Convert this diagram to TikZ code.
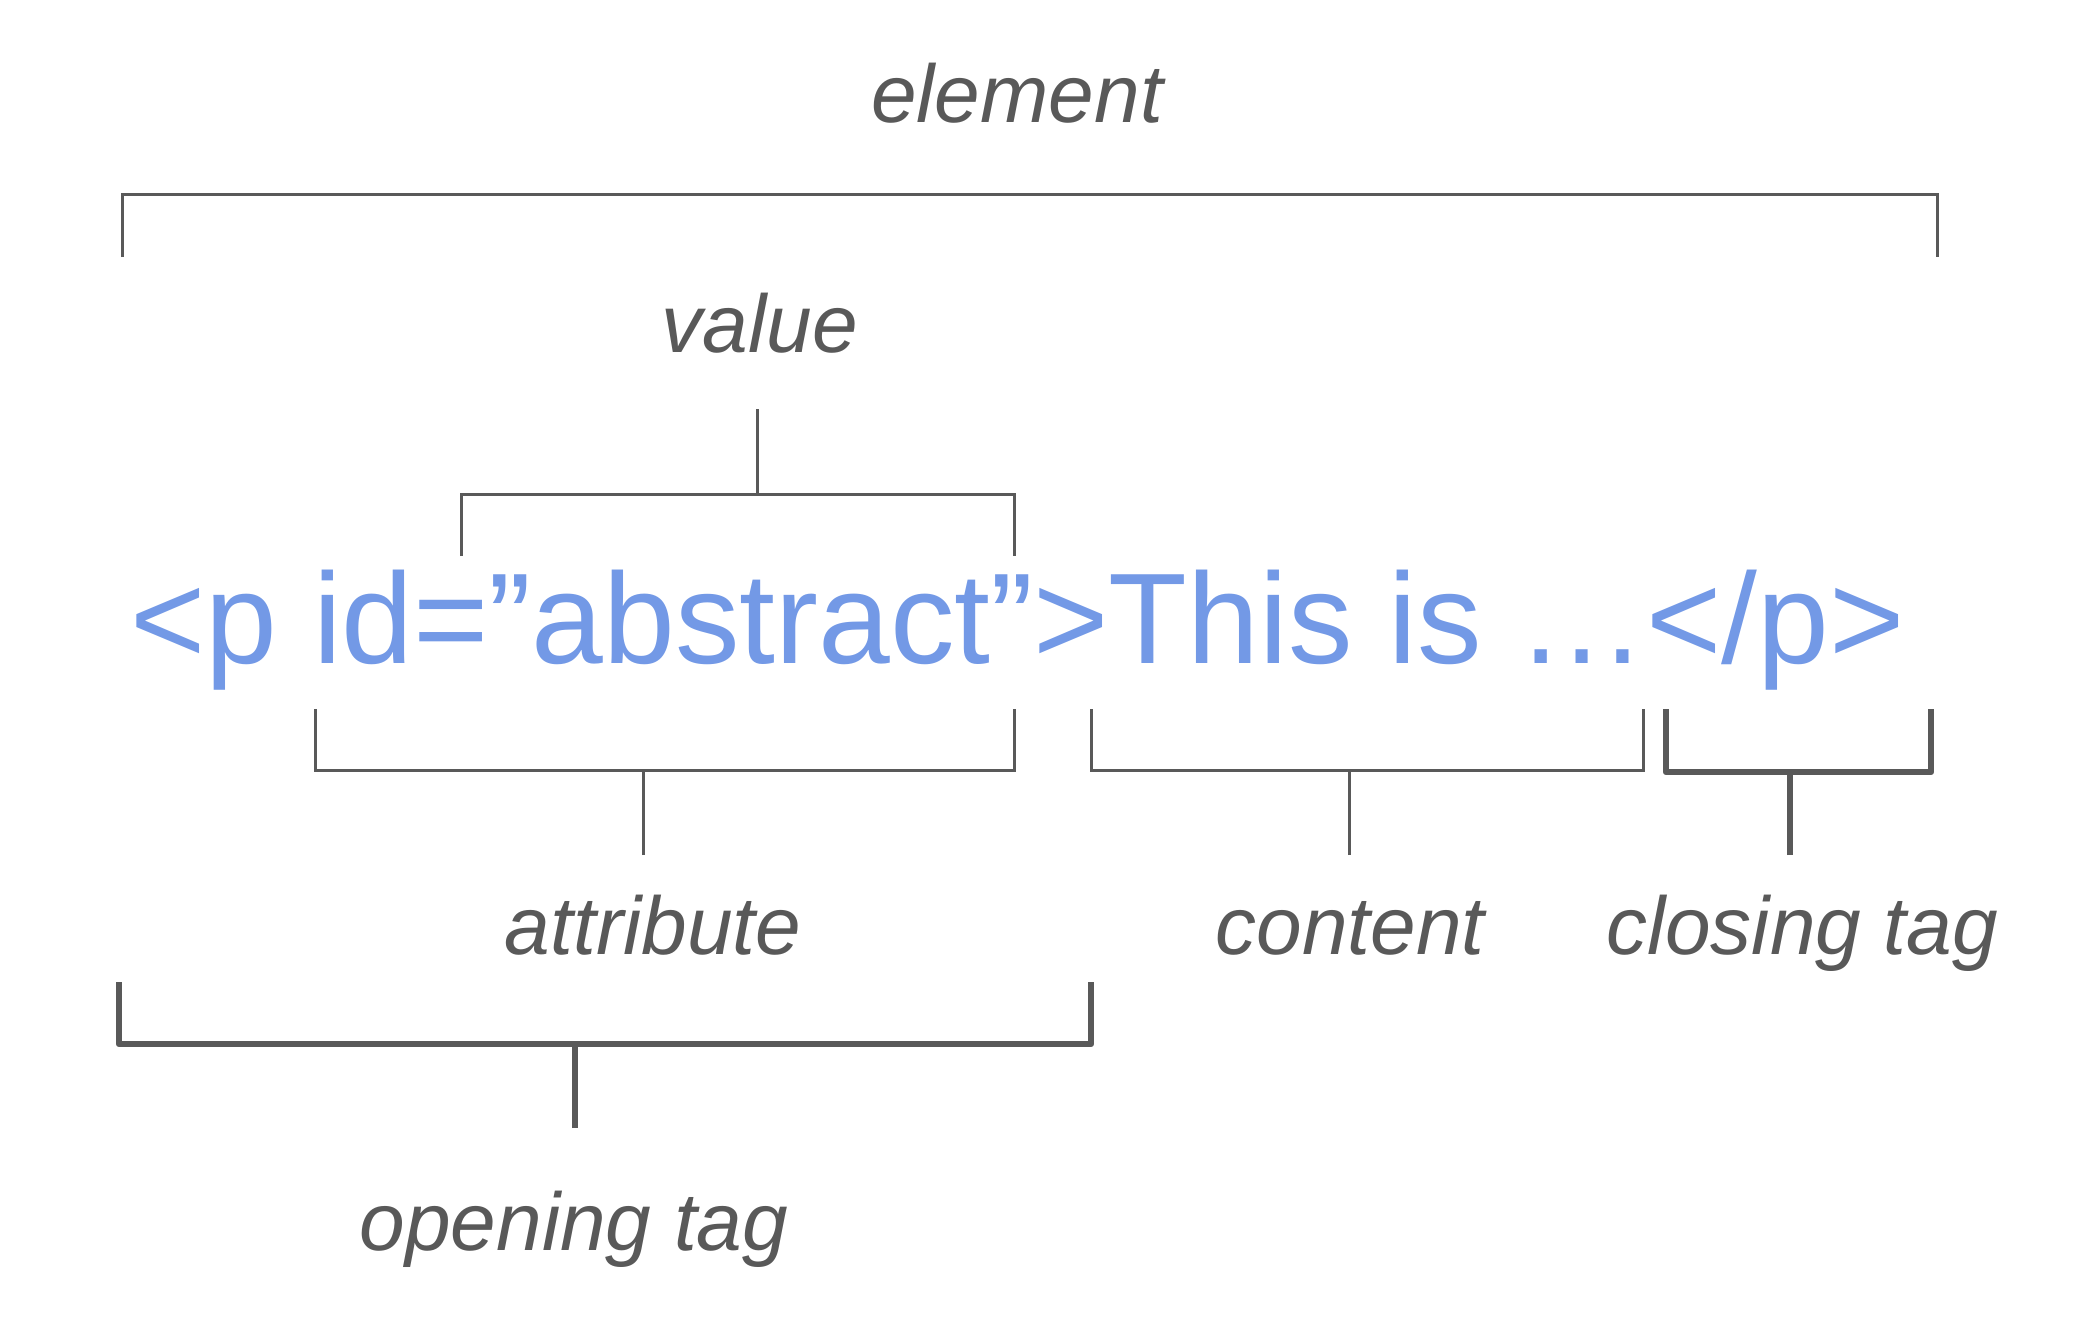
\documentclass[tikz,border=0pt]{standalone}
\usepackage{fontspec}
\setmainfont{Liberation Sans}
\usetikzlibrary{positioning}
\definecolor{codeblue}{RGB}{115,153,230}
\definecolor{labelgray}{RGB}{89,89,89}

\begin{document}
\begin{tikzpicture}[x=0.5pt, y=-0.5pt,
    lbl/.style={font=\fontsize{41}{49}\selectfont\itshape, text=labelgray, inner sep=0pt, anchor=base},
    code/.style={font=\fontsize{64.5}{77}\selectfont, text=codeblue, inner sep=0pt, anchor=base west},
    brk/.style={draw=labelgray, line width=1.5pt},
    brkthick/.style={brk, line width=3.2pt, line join=round}]
    \useasboundingbox (0,0) rectangle (2078,1344);
    \node[code] (tag) at (130,663) {<p id=”abstract”>This is …</p>};
    \node[lbl] (element) at (1017,122) {element};
    \node[lbl] (value) at (760,352) {value};
    \node[lbl] (attribute) at (653,954) {attribute};
    \node[lbl] (content) at (1350,954) {content};
    \node[lbl] (closing) at (1802,954) {closing tag};
    \node[lbl] (opening) at (574,1250) {opening tag};
    % stem ends
    \coordinate (valstem) at (757,409);
    \coordinate (attrstem) at (643,855);
    \coordinate (contstem) at (1349,855);
    \coordinate (closestem) at (1790,855);
    \coordinate (openstem) at (575,1128);
    % brackets
    \draw[brk] (122,257) |- (1937,194) -- (1937,257);
    \draw[brk] (461,556) |- (1014,494) -- (1014,556);
    \draw[brk] (valstem) -- (valstem |- 0,494);
    \draw[brk] (315,709) |- (1014,770) -- (1014,709);
    \draw[brk] (attrstem) -- (attrstem |- 0,770);
    \draw[brk] (1091,709) |- (1643,770) -- (1643,709);
    \draw[brk] (contstem) -- (contstem |- 0,770);
    \draw[brkthick] (1666,709) |- (1931,772) -- (1931,709);
    \draw[brkthick] (closestem) -- (closestem |- 0,772);
    \draw[brkthick] (119,982) |- (1091,1044) -- (1091,982);
    \draw[brkthick] (openstem) -- (openstem |- 0,1044);
\end{tikzpicture}
\end{document}
